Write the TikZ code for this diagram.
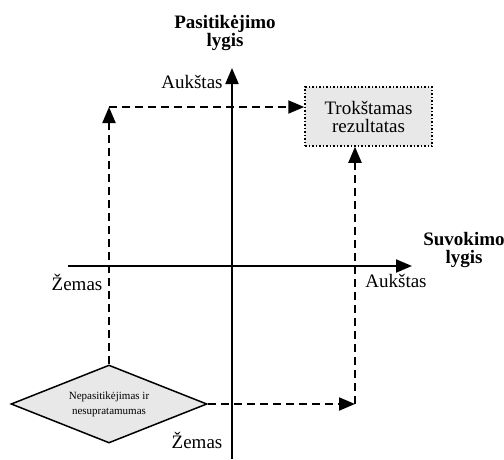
\documentclass[tikz,border=0pt]{standalone}
\usepackage{fontspec}
\setmainfont{Liberation Serif}
\usetikzlibrary{arrows.meta,shapes.geometric}
\definecolor{boxgray}{HTML}{E8E8E8}
\tikzset{
  axis/.style={line width=2pt,-{Triangle[length=16pt,width=13pt]}},
  flow/.style={line width=2pt,dash pattern=on 8pt off 5pt,-{Triangle[length=16pt,width=13pt]}},
  lbl/.style={font=\fontsize{19}{19}\selectfont,inner sep=0pt},
  title/.style={font=\fontsize{19}{18}\selectfont\bfseries,align=center,inner sep=0pt},
  goal/.style={draw,line width=1.5pt,dotted,fill=boxgray,minimum width=127pt,minimum height=59pt,
    align=center,font=\fontsize{19}{18}\selectfont,inner sep=0pt},
  start/.style={diamond,draw,line width=1.5pt,fill=boxgray,minimum width=196pt,minimum height=78pt,
    aspect=2.5,inner sep=0pt,align=center,font=\fontsize{11}{15}\selectfont},
}
\begin{document}
\begin{tikzpicture}[x=1pt,y=-1pt]
\useasboundingbox (0,0) rectangle (504,459);
% axes
\coordinate (vbot) at (232,459);
\coordinate (vtop) at (232,68);
\coordinate (hleft) at (68,266);
\coordinate (hright) at (412,266);
\draw[axis] (vbot) -- (vtop);
\draw[axis] (hleft) -- (hright);
% axis titles and end labels
\node[title] (ytitle) at (225,33) {Pasitikėjimo\\lygis};
\node[title] (xtitle) at (464,250) {Suvokimo\\lygis};
\node[lbl] (yhigh) at (192,82) {Aukštas};
\node[lbl] (ylow) at (197,440) {Žemas};
\node[lbl] (xhigh) at (396,281) {Aukštas};
\node[lbl] (xlow) at (77,282) {Žemas};
% start and goal
\node[goal] (goal) at (368.5,116.5) {Trokštamas\\rezultatas};
\node[start] (start) at (109,404) {Nepasitikėjimas ir\\nesupratamumas};
% paths
\coordinate (tl) at (109,107);
\coordinate (br) at (355,404);
\draw[flow] (start.north) -- (tl);
\draw[flow] (tl) -- (tl -| goal.west);
\draw[flow] (start.east) -- (br);
\draw[flow] (br) -- (br |- goal.south);
\end{tikzpicture}
\end{document}
